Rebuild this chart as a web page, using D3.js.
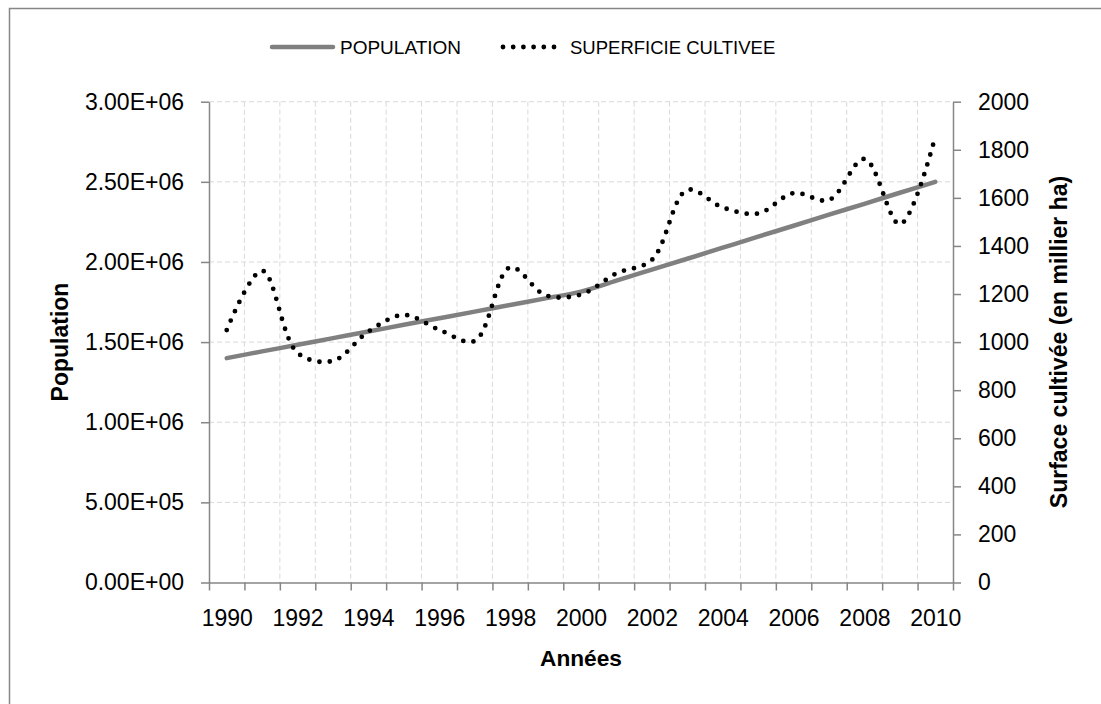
<!DOCTYPE html>
<html><head><meta charset="utf-8">
<script src="https://cdn.jsdelivr.net/npm/d3@7"></script>
<style>
body{margin:0;background:#fff}
text{font-family:"Liberation Sans",Arial,sans-serif;fill:#000}
</style>
</head><body><svg id="c" width="1101" height="704"></svg>
<script>
const years = ["1990","1991","1992","1993","1994","1995","1996","1997","1998","1999","2000","2001","2002","2003","2004","2005","2006","2007","2008","2009","2010"];
const population = [1400000,1442000,1483000,1525000,1566000,1608000,1649000,1690000,1732000,1773000,1815000,1884000,1952000,2020000,2089000,2158000,2226000,2295000,2363000,2432000,2500000];
const surface = [1050,1297,955,922,1044,1113,1051,1005,1311,1195,1198,1286,1342,1633,1560,1535,1620,1591,1762,1490,1855];
const popTicks = [0,500000,1000000,1500000,2000000,2500000,3000000];
const surfTicks = [0,200,400,600,800,1000,1200,1400,1600,1800,2000];
const seriesNames = ["POPULATION","SUPERFICIE CULTIVEE"];

const svg = d3.select("#c");
const L=209, R=953, T=101.7, B=582.5;
const axisCol="#868686", gridCol="#d9d9d9";

svg.append("rect").attr("x",9.5).attr("y",8.5).attr("width",1200).attr("height",730)
  .attr("fill","#fff").attr("stroke",axisCol).attr("stroke-width",1.5);

const x = d3.scaleLinear().domain([0, years.length]).range([L,R]);
const yL = d3.scaleLinear().domain([0,3000000]).range([B,T]);
const yR = d3.scaleLinear().domain([0,2000]).range([B,T]);

// grid
svg.append("g").selectAll("line").data(popTicks.slice(1)).join("line")
  .attr("x1",L).attr("x2",R).attr("y1",d=>yL(d)).attr("y2",d=>yL(d))
  .attr("stroke",gridCol).attr("stroke-width",1).attr("stroke-dasharray","5,3");
svg.append("g").selectAll("line").data(d3.range(1, years.length)).join("line")
  .attr("x1",d=>x(d)).attr("x2",d=>x(d)).attr("y1",T).attr("y2",B)
  .attr("stroke",gridCol).attr("stroke-width",1).attr("stroke-dasharray","5,3");

const fmt = d => d.toExponential(2).replace(/e([+-])(\d)$/, "E$10$2");

function styleAxis(g){
  g.selectAll(".domain").attr("stroke",axisCol).attr("stroke-width",1.5);
  g.selectAll(".tick line").attr("stroke",axisCol).attr("stroke-width",1.5);
  g.selectAll("text").style("font-size","23px").attr("fill","#000");
}

svg.append("g").attr("transform",`translate(${L},0)`)
  .call(d3.axisLeft(yL).tickValues(popTicks).tickFormat(fmt).tickSize(8).tickSizeOuter(0).tickPadding(17))
  .call(styleAxis);
svg.append("g").attr("transform",`translate(${R},0)`)
  .call(d3.axisRight(yR).tickValues(surfTicks).tickFormat(d3.format("d")).tickSize(8).tickSizeOuter(0).tickPadding(17))
  .call(styleAxis);
svg.append("g").attr("transform",`translate(0,${B})`)
  .call(d3.axisBottom(x).tickValues(d3.range(0, years.length+1)).tickFormat("").tickSize(8).tickSizeOuter(0))
  .call(styleAxis);
const labIdx = years.map((d,i)=>i).filter(i=>i%2===0);
svg.append("g").attr("transform",`translate(0,${B})`)
  .call(d3.axisBottom(x).tickValues(labIdx.map(i=>i+0.5)).tickFormat(v=>years[v-0.5]).tickSize(0).tickPadding(27))
  .call(styleAxis)
  .call(g=>g.select(".domain").remove());

// series
const popLine = d3.line().x((d,i)=>x(i+0.5)).y(d=>yL(d)).curve(d3.curveCatmullRom.alpha(0.5));
const surfLine = d3.line().x((d,i)=>x(i+0.5)).y(d=>yR(d)).curve(d3.curveCatmullRom.alpha(0.5));
svg.append("path").datum(population).attr("d",popLine).attr("fill","none")
  .attr("stroke","#808080").attr("stroke-width",4.5).attr("stroke-linecap","round");
svg.append("path").datum(surface).attr("d",surfLine).attr("fill","none")
  .attr("stroke","#000").attr("stroke-width",4.8).attr("stroke-linecap","round").attr("stroke-dasharray","0 10.3");

// legend
const lg = svg.append("g");
lg.append("line").attr("x1",272).attr("x2",333).attr("y1",47).attr("y2",47)
  .attr("stroke","#808080").attr("stroke-width",4.5).attr("stroke-linecap","round");
lg.append("text").attr("x",340).attr("y",47).attr("dominant-baseline","central").style("font-size","19px").text(seriesNames[0]);
lg.append("line").attr("x1",503).attr("x2",555).attr("y1",47).attr("y2",47)
  .attr("stroke","#000").attr("stroke-width",4.8).attr("stroke-linecap","round").attr("stroke-dasharray","0 10.2");
lg.append("text").attr("x",570).attr("y",47).attr("dominant-baseline","central").style("font-size","18.5px").text(seriesNames[1]);

// titles
svg.append("text").attr("transform","translate(60,342) rotate(-90)").attr("text-anchor","middle")
  .attr("dominant-baseline","central").style("font-size","23px").style("font-weight","bold").text("Population");
svg.append("text").attr("transform","translate(1059,342) rotate(-90)").attr("text-anchor","middle")
  .attr("dominant-baseline","central").style("font-size","23px").style("font-weight","bold").text("Surface cultivée (en millier ha)");
svg.append("text").attr("x",581).attr("y",658).attr("text-anchor","middle")
  .attr("dominant-baseline","central").style("font-size","22.7px").style("font-weight","bold").text("Années");
</script></body></html>
